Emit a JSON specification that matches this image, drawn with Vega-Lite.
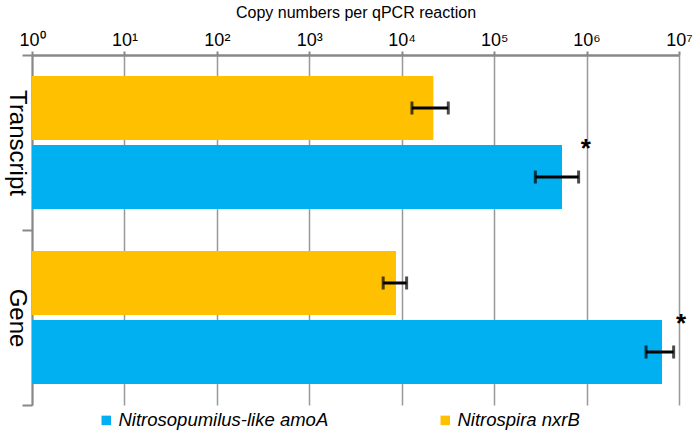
{
  "$schema": "https://vega.github.io/schema/vega-lite/v6.json",
  "autosize": {"type": "none"},
  "width": 647,
  "height": 350,
  "padding": {"left": 32, "top": 55, "right": 18, "bottom": 31},
  "config": {
    "view": {"stroke": null},
    "font": "Liberation Sans"
  },
  "data": {
    "values": [
      {"group": "Transcript", "gene": "nxrB", "value": 22000, "lo": 12900, "hi": 31900},
      {"group": "Transcript", "gene": "amoA", "value": 542000, "lo": 279000, "hi": 820000, "star": 980000},
      {"group": "Gene", "gene": "nxrB", "value": 8670, "lo": 6300, "hi": 11300},
      {"group": "Gene", "gene": "amoA", "value": 6550000, "lo": 4400000, "hi": 8750000, "star": 10500000}
    ]
  },
  "encoding": {
    "y": {
      "field": "group", "type": "nominal",
      "sort": ["Transcript", "Gene"],
      "scale": {"paddingInner": 0, "paddingOuter": 0},
      "axis": {
        "title": null, "labelAngle": 90, "labelFontSize": 24, "labelColor": "#000",
        "labelAlign": "center", "labelBaseline": "middle", "labelPadding": 6,
        "domainColor": "#888", "domainWidth": 2, "tickColor": "#888", "tickWidth": 2,
        "tickSize": 10, "tickBand": "extent"
      }
    },
    "yOffset": {
      "field": "gene", "type": "nominal",
      "scale": {"domain": ["nxrB", "amoA"], "paddingInner": 0.0725, "paddingOuter": 0.304}
    }
  },
  "layer": [
    {
      "mark": {"type": "bar"},
      "encoding": {
        "x": {
          "field": "value", "type": "quantitative",
          "scale": {"type": "log", "domain": [1, 10000000]},
          "axis": {
            "orient": "top", "title": "Copy numbers per qPCR reaction",
            "titleFontSize": 16, "titleFontWeight": "normal", "titleColor": "#000", "titlePadding": 11,
            "values": [1, 10, 100, 1000, 10000, 100000, 1000000, 10000000],
            "labelExpr": "'10' + ['⁰','¹','²','³','⁴','⁵','⁶','⁷'][round(log(datum.value)/LN10)]",
            "labelFontSize": 18, "labelColor": "#000", "labelPadding": 2, "labelFlush": false,
            "domainColor": "#888", "domainWidth": 2.5, "tickColor": "#888", "tickWidth": 2, "tickSize": 4,
            "grid": true, "gridColor": "#999", "gridWidth": 1.5
          }
        },
        "x2": {"datum": 1},
        "color": {
          "field": "gene", "type": "nominal",
          "scale": {"domain": ["amoA", "nxrB"], "range": ["#00B0F0", "#FFC000"]},
          "legend": {
            "title": null, "orient": "none", "direction": "horizontal",
            "legendX": 65, "legendY": 356,
            "labelExpr": "datum.value == 'amoA' ? 'Nitrosopumilus-like amoA' : 'Nitrospira nxrB'",
            "labelFontStyle": "italic", "labelFontSize": 18.5, "labelColor": "#000", "labelLimit": 0,
            "symbolType": "square", "symbolSize": 90, "symbolStrokeWidth": 0,
            "columnPadding": 107, "labelOffset": 3
          }
        }
      }
    },
    {
      "mark": {"type": "rule", "color": "#000", "strokeWidth": 3},
      "encoding": {
        "x": {"field": "lo", "type": "quantitative"},
        "x2": {"field": "hi"}
      }
    },
    {
      "mark": {"type": "tick", "color": "#000", "thickness": 3, "size": 13},
      "encoding": {"x": {"field": "lo", "type": "quantitative"}}
    },
    {
      "mark": {"type": "tick", "color": "#000", "thickness": 3, "size": 13},
      "encoding": {"x": {"field": "hi", "type": "quantitative"}}
    },
    {
      "transform": [{"filter": "datum.star != null"}],
      "mark": {"type": "text", "text": "*", "fontSize": 26, "fontWeight": "bold", "color": "#000", "baseline": "middle", "dy": -28},
      "encoding": {"x": {"field": "star", "type": "quantitative"}}
    }
  ]
}
